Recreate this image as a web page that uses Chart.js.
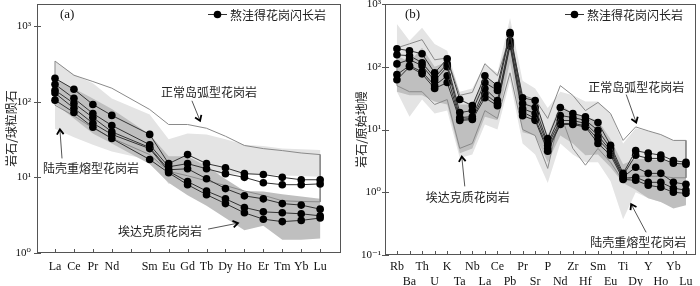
<!DOCTYPE html>
<html>
<head>
<meta charset="utf-8">
<script src="https://cdn.jsdelivr.net/npm/chart.js@4.4.0/dist/chart.umd.min.js"></script>
<style>
  body { margin: 0; background: #fff; width: 700px; height: 286px; overflow: hidden; }
  canvas { position: absolute; top: 0; }
</style>
</head>
<body>
<canvas id="reeChart" width="350" height="286" style="left:0"></canvas>
<canvas id="traceChart" width="350" height="286" style="left:350px"></canvas>
<script>
// ---- (a) REE, chondrite normalised ----
const reeNames = ['La','Ce','Pr','Nd','','Sm','Eu','Gd','Tb','Dy','Ho','Er','Tm','Yb','Lu'];
const reePos = [1,2,3,4,6,7,8,9,10,11,12,13,14,15];  // no Pm data
const reeS1 = [204,146,92,66,37,15.2,20,15.2,13.4,11.2,10.9,10,9.3,9.3];
const reeS2 = [170,111,70,48.6,27,13.8,15.2,13,11.2,10,8.5,8.0,8.0,8.2];
const reeS3 = [142,95,62,40,24.8,12.6,13,9.6,7.1,5.7,5.2,4.5,4.3,3.8];
const reeS4 = [130,82,52,37,24,12,8.8,6.6,5.2,4.0,3.5,3.4,3.3,3.1];
const reeS5 = [105,72,46,32.6,17.2,11.5,8.0,5.9,4.5,3.4,2.8,2.6,2.7,2.9];
const reeCrustUpper = [345,230,175,110,68,32,38,37,32,27,26,24,23.5,23];
const reeCrustLower = [44,34,27,22,17,8.2,10.5,11,11,11,11,10.6,10.4,10.2];
const reeAdakUpper = [200,150,110,80,37,19,19,14,9.5,6.6,6.5,6,5.6,5.2];
const reeAdakLower = [95,60,38,28,15,8.5,5.8,4.2,2.9,2.0,2.3,1.5,1.5,1.55];
const reeArcUpper = [345,224,185,151,79,50,50,44.6,35,26.4,24,22.6,21,20];
const reeArcLower = [90,65,45,33,20,12,10.5,9,7.8,6.6,5.8,4.9,4.8,4.75];

// ---- (b) trace elements, primitive mantle normalised ----
const trNames = ['Rb','Ba','Th','U','K','Ta','Nb','La','Ce','Pb','Pr','Sr','P','Nd','Zr','Hf','Sm','Eu','Ti','Dy','Y','Ho','Yb','Lu'];
const trPos = trNames.map((n, i) => i + 1);
const trS1 = [194,180,161,80,134,30,24,72,50,350,32,29,7.2,22.4,18,16,12.9,5.6,2.0,4.6,4.2,3.9,3.2,3.0];
const trS2 = [155,150,116,67,111,18.6,20,56,42,330,26,22.4,6.0,16.7,15.5,14,9.7,5.0,1.86,3.9,3.46,3.46,2.9,2.8];
const trS3 = [111,130,104,60,100,15.5,16,45,29,260,21.5,18,5.6,13.9,13.9,12.5,8,4.6,1.75,2.5,2.0,2.0,1.44,1.34];
const trS4 = [75,104,83,50,72,14.5,15,37,26,235,19,15,5.0,12.4,12.5,11.5,7,4.3,1.67,1.73,1.44,1.44,1.16,1.08];
const trS5 = [62,100,77,45,56,13.9,14.4,32,24,215,16.6,14,4.5,12,12,11,6.0,3.9,1.6,1.55,1.29,1.2,1.0,0.96];
const trCrustUpper = [480,260,420,230,180,40,45,110,80,600,60,45,22,40,35,28,28,18,6,10.5,9.5,8.3,6.7,6.7];
const trCrustLower = [40,16,30,18,20,3.5,4,12,10,60,6,4,1.4,6,4,3,3,1.5,0.37,1.0,0.8,0.7,0.6,0.65];
const trAdakUpper = [150,120,200,100,120,25,25,70,50,450,30,30,8,25,18,16,14,7,2.8,3.4,3.4,3.2,3.0,2.9];
const trAdakLower = [40,35,35,28,25,4.2,5,16,14,120,9,8,3,8,6,3.9,4,2.5,1.4,1.1,0.8,0.7,0.55,0.62];
const trArcUpper = [200,232,270,129,138,35,39,112,72,300,35,30,15,50,35,20,27,18,6.7,11,9.5,8.3,6.7,6.7];
const trArcLower = [50,40,40,25,30,5,6,20,15,80,10,8,2.4,18,5,2.7,5,3,1.5,1.8,1.8,1.8,1.7,1.7];

const legendText = '熬洼得花岗闪长岩';
const txtArc = '正常岛弧型花岗岩', txtCrust = '陆壳重熔型花岗岩', txtAdak = '埃达克质花岗岩';

const cjk = '"Noto Sans CJK SC", "Noto Sans", sans-serif';
const serif = '"Liberation Serif", "DejaVu Serif", serif';
const sup = { '0': '⁰', '1': '¹', '2': '²', '3': '³', '-': '⁻' };

function pts(pos, vals) { return vals.map((v, i) => ({ x: pos[i], y: v })); }
function polygon(pos, up, low) {
  return pts(pos, up).concat(pts(pos, low).reverse());
}
function sampleSet(pos, vals) {
  return { data: pts(pos, vals), borderColor: '#333', borderWidth: 1, pointRadius: 3.8,
           pointBackgroundColor: '#000', pointBorderWidth: 0, fill: false, order: 1 };
}
function fieldSet(data, color, order) {
  return { data, borderWidth: 0, pointRadius: 0, backgroundColor: color, fill: 'shape', order };
}
function outlineSet(data) {
  return { data: data.concat([data[0]]), borderColor: '#8a8a8a', borderWidth: 1, pointRadius: 0, fill: false, order: 2 };
}
function powLabel(v) {
  const e = String(Math.round(Math.log10(v)));
  return '10' + e.split('').map(c => sup[c]).join('');
}

const decor = {
  id: 'decor',
  afterDraw(chart, args, o) {
    const { ctx, chartArea: a, scales: { x, y } } = chart;
    ctx.save();
    ctx.strokeStyle = '#555'; ctx.lineWidth = 1;
    ctx.strokeRect(a.left + 0.5, a.top + 0.5, a.right - a.left - 1, a.bottom - a.top - 1);
    ctx.beginPath();
    x.ticks.forEach(t => { const px = Math.round(x.getPixelForValue(t.value)) + 0.5; ctx.moveTo(px, a.bottom); ctx.lineTo(px, a.bottom - 4); });
    y.ticks.forEach(t => { const py = Math.round(y.getPixelForValue(t.value)) + 0.5; ctx.moveTo(a.left - 3, py); ctx.lineTo(a.left + 4, py); });
    ctx.stroke();
    // panel label
    ctx.fillStyle = '#111'; ctx.font = '13px ' + serif; ctx.textBaseline = 'middle'; ctx.textAlign = 'left';
    ctx.fillText(o.panel, o.panelX, o.panelY);
    // legend
    const L = o.legend;
    ctx.strokeStyle = '#333'; ctx.beginPath(); ctx.moveTo(L.x1, L.y + 0.5); ctx.lineTo(L.x2, L.y + 0.5); ctx.stroke();
    ctx.fillStyle = '#000'; ctx.beginPath(); ctx.arc((L.x1 + L.x2) / 2, L.y + 0.5, 3.8, 0, Math.PI * 2); ctx.fill();
    ctx.fillStyle = '#222'; ctx.font = '12px ' + cjk; ctx.fillText(legendText, L.x2 + 3, L.y + 1);
    // annotations with arrows
    o.notes.forEach(n => {
      ctx.fillStyle = '#222'; ctx.font = '12px ' + cjk; ctx.textAlign = 'center';
      ctx.fillText(n.text, x.getPixelForValue(n.tx), y.getPixelForValue(n.ty));
      const x0 = x.getPixelForValue(n.a[0]), y0 = y.getPixelForValue(n.a[1]);
      const x1 = x.getPixelForValue(n.b[0]), y1 = y.getPixelForValue(n.b[1]);
      ctx.strokeStyle = '#555'; ctx.lineWidth = 1;
      ctx.beginPath(); ctx.moveTo(x0, y0); ctx.lineTo(x1, y1); ctx.stroke();
      const ang = Math.atan2(y1 - y0, x1 - x0), h = 6;
      ctx.strokeStyle = '#000'; ctx.lineWidth = 1.8;
      ctx.beginPath();
      ctx.moveTo(x1 - h * Math.cos(ang - 0.6), y1 - h * Math.sin(ang - 0.6));
      ctx.lineTo(x1, y1);
      ctx.lineTo(x1 - h * Math.cos(ang + 0.6), y1 - h * Math.sin(ang + 0.6));
      ctx.stroke();
    });
    ctx.restore();
  }
};

function makeChart(id, cfg) {
  return new Chart(document.getElementById(id), {
    type: 'line',
    data: { datasets: cfg.datasets },
    options: {
      responsive: false, animation: false, devicePixelRatio: 1,
      layout: { padding: cfg.padding },
      plugins: { legend: { display: false }, tooltip: { enabled: false }, decor: cfg.decor },
      scales: {
        x: {
          type: 'linear', min: cfg.xMin, max: cfg.xMax,
          grid: { display: false, drawTicks: false }, border: { display: false },
          afterBuildTicks: s => { s.ticks = cfg.names.map((n, i) => ({ value: i + 1 })); },
          ticks: { autoSkip: false, maxRotation: 0, padding: cfg.xPad, color: '#111',
                   font: { family: serif, size: 12 }, callback: cfg.xLabel },
          afterFit: s => { s.height = cfg.xHeight; s.paddingLeft = 0; s.paddingRight = 0; }
        },
        y: {
          type: 'logarithmic', min: cfg.yMin, max: cfg.yMax,
          grid: { display: false, drawTicks: false }, border: { display: false },
          afterBuildTicks: s => { s.ticks = cfg.yTicks.map(v => ({ value: v })); },
          ticks: { padding: cfg.yPad, color: '#111', font: { family: serif, size: 11 }, callback: v => powLabel(v) },
          title: { display: true, text: cfg.yTitle, color: '#222', font: { family: cjk, size: 12 }, padding: { top: 4, bottom: 0 } },
          afterFit: s => { s.width = cfg.yWidth; s.paddingTop = 0; s.paddingBottom = 0; }
        }
      }
    },
    plugins: [decor]
  });
}

makeChart('reeChart', {
  names: reeNames, xMin: 0.05, xMax: 16.1, yMin: 1, yMax: 1960, yTicks: [1, 10, 100, 1000],
  padding: { top: 3, right: 9, left: 0, bottom: 0 }, xHeight: 33, yWidth: 37, xPad: 7, yPad: 6,
  yTitle: '岩石/球粒陨石',
  xLabel: (v) => reeNames[v - 1],
  datasets: [
    fieldSet(polygon(reePos, reeCrustUpper, reeCrustLower), '#e4e4e4', 5),
    fieldSet(polygon(reePos, reeAdakUpper, reeAdakLower), '#bfbfbf', 4),
    outlineSet(polygon(reePos, reeArcUpper, reeArcLower)),
    sampleSet(reePos, reeS1), sampleSet(reePos, reeS2), sampleSet(reePos, reeS3),
    sampleSet(reePos, reeS4), sampleSet(reePos, reeS5)
  ],
  decor: {
    panel: '(a)', panelX: 60, panelY: 15,
    legend: { x1: 208, x2: 227, y: 14 },
    notes: [
      { text: txtArc, tx: 9.13, ty: 132, a: [8.23, 103], b: [8.66, 56] },
      { text: txtCrust, tx: 2.9, ty: 13.2, a: [1.37, 17.8], b: [1.26, 43] },
      { text: txtAdak, tx: 6.54, ty: 1.95, a: [9.08, 2.07], b: [10.66, 2.48] }
    ]
  }
});

makeChart('traceChart', {
  names: trNames, xMin: 0.05, xMax: 24.8, yMin: 0.1, yMax: 1000, yTicks: [0.1, 1, 10, 100, 1000],
  padding: { top: 3, right: 3, left: 0, bottom: 0 }, xHeight: 31, yWidth: 35, xPad: 5, yPad: 4,
  yTitle: '岩石/原始地幔',
  xLabel: (v) => (v % 2 === 1 ? [trNames[v - 1], ' '] : [' ', trNames[v - 1]]),
  datasets: [
    fieldSet(polygon(trPos, trCrustUpper, trCrustLower), '#e4e4e4', 5),
    fieldSet(polygon(trPos, trAdakUpper, trAdakLower), '#bfbfbf', 4),
    outlineSet(polygon(trPos, trArcUpper, trArcLower)),
    sampleSet(trPos, trS1), sampleSet(trPos, trS2), sampleSet(trPos, trS3),
    sampleSet(trPos, trS4), sampleSet(trPos, trS5)
  ],
  decor: {
    panel: '(b)', panelX: 55, panelY: 15,
    legend: { x1: 215, x2: 234, y: 14 },
    notes: [
      { text: txtArc, tx: 20.04, ty: 46.4, a: [19.25, 36], b: [20.04, 12.9] },
      { text: txtAdak, tx: 6.63, ty: 0.83, a: [6.4, 1.24], b: [6.16, 3.7] },
      { text: txtCrust, tx: 20.2, ty: 0.16, a: [20.83, 0.23], b: [19.64, 0.645] }
    ]
  }
});
</script>
</body>
</html>
